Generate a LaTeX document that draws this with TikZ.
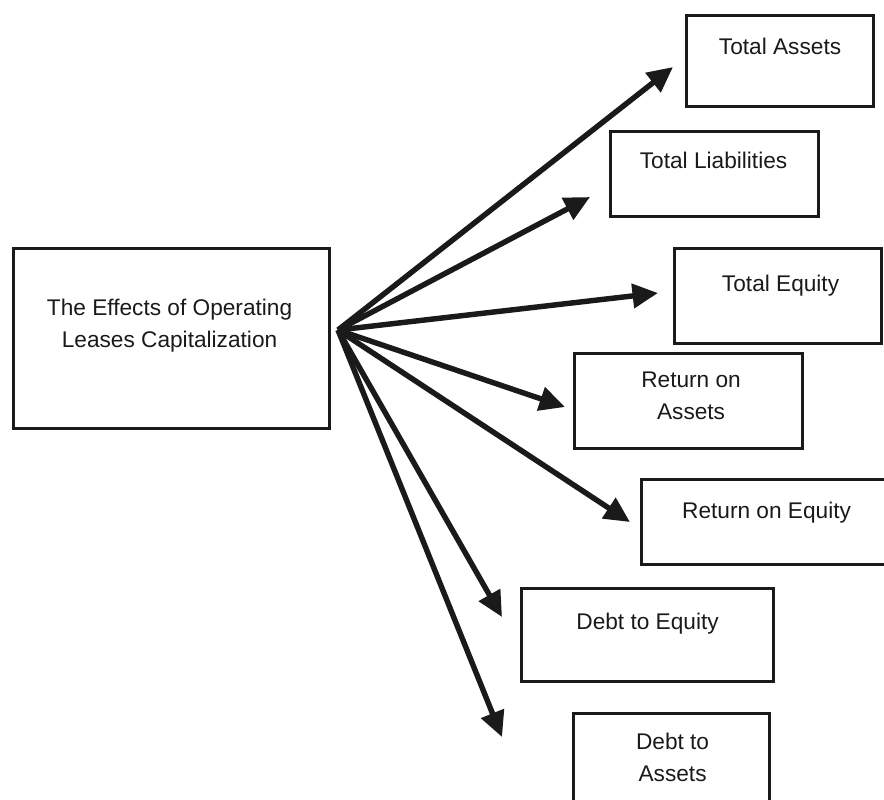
\documentclass[tikz,border=0pt]{standalone}
\usepackage{fontspec}
\setmainfont{Liberation Sans}
\usepackage{xcolor}
\usetikzlibrary{
    positioning,
    arrows.meta
}
\definecolor{Tinta}{HTML}{1A1A1A}

\tikzset{
    caixa/.style={
        draw=Tinta,
        line width=1.8pt,
        anchor=north west,
        inner sep=0pt
    },
    rotulo/.style={
        anchor=north,
        inner sep=0pt,
        align=center,
        text=Tinta,
        font=\fontsize{12.9pt}{18pt}\selectfont
    },
    seta/.style={
        draw=Tinta,
        line width=3.1pt,
        -{Triangle[length=14.5pt,width=13.5pt]}
    }
}

\begin{document}
\begin{tikzpicture}[x=0.02cm, y=-0.02cm]

    \clip (0,0) rectangle (884,799);

    % caixa principal
    \node[
        caixa,
        minimum width=6.32cm,
        minimum height=3.6cm,
        label={[rotulo, yshift=-1.04cm, xshift=-0.04cm]north:{The Effects of Operating\\Leases Capitalization}}
    ] (efeitos) at (12,247) {};

    % caixas da direita
    \node[
        caixa,
        minimum width=3.74cm,
        minimum height=1.82cm,
        label={[rotulo, yshift=-0.48cm]north:Total Assets}
    ] (ativos) at (685,14) {};

    \node[
        caixa,
        minimum width=4.16cm,
        minimum height=1.70cm,
        label={[rotulo, yshift=-0.44cm, xshift=-0.02cm]north:Total Liabilities}
    ] (passivos) at (609,130) {};

    \node[
        caixa,
        minimum width=4.14cm,
        minimum height=1.90cm,
        label={[rotulo, yshift=-0.56cm, xshift=0.05cm]north:Total Equity}
    ] (patrimonio) at (673,247) {};

    \node[
        caixa,
        minimum width=4.56cm,
        minimum height=1.90cm,
        label={[rotulo, yshift=-0.40cm, xshift=0.05cm]north:{Return on\\Assets}}
    ] (roa) at (573,352) {};

    \node[
        caixa,
        minimum width=5.0cm,
        minimum height=1.70cm,
        label={[rotulo, yshift=-0.48cm]north:Return on Equity}
    ] (roe) at (640,478) {};

    \node[
        caixa,
        minimum width=5.04cm,
        minimum height=1.86cm,
        label={[rotulo, yshift=-0.52cm]north:Debt to Equity}
    ] (dividapl) at (520,587) {};

    \node[
        caixa,
        minimum width=3.92cm,
        minimum height=2.0cm,
        label={[rotulo, yshift=-0.42cm, xshift=0.02cm]north:{Debt to\\Assets}}
    ] (dividaativo) at (572,712) {};

    % pontas das setas
    \coordinate (centro) at (338,330);
    \coordinate (pA) at (673,67);
    \coordinate (pB) at (590,197);
    \coordinate (pC) at (658,293);
    \coordinate (pD) at (565,407);
    \coordinate (pE) at (630,522);
    \coordinate (pF) at (502,617);
    \coordinate (pG) at (502,737);

    \draw[seta] (centro) -- (pA);
    \draw[seta] (centro) -- (pB);
    \draw[seta] (centro) -- (pC);
    \draw[seta] (centro) -- (pD);
    \draw[seta] (centro) -- (pE);
    \draw[seta] (centro) -- (pF);
    \draw[seta] (centro) -- (pG);

\end{tikzpicture}
\end{document}
